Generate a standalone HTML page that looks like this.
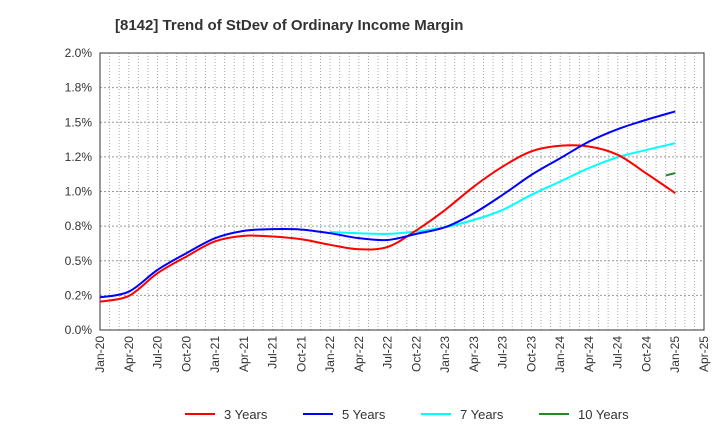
<!DOCTYPE html>
<html><head><meta charset="utf-8"><style>
body{margin:0;background:#fff;font-family:"Liberation Sans",Arial,sans-serif}
svg text{font-family:"Liberation Sans",Arial,sans-serif}
</style></head><body>
<svg id="c" width="720" height="440" xmlns="http://www.w3.org/2000/svg">
<text x="115" y="30" font-size="15" font-weight="bold" fill="#333">[8142]  Trend of StDev of Ordinary Income Margin</text>
<g id="grid"></g><g id="axes"></g><g id="series"></g><g id="legend"></g>
</svg>
<script>
const xLabels=["Jan-20","Apr-20","Jul-20","Oct-20","Jan-21","Apr-21","Jul-21","Oct-21","Jan-22","Apr-22","Jul-22","Oct-22","Jan-23","Apr-23","Jul-23","Oct-23","Jan-24","Apr-24","Jul-24","Oct-24","Jan-25","Apr-25"];
const yTicks=[0,0.25,0.5,0.75,1.0,1.25,1.5,1.75,2.0];
const yTickLabels=["0.0%","0.2%","0.5%","0.8%","1.0%","1.2%","1.5%","1.8%","2.0%"];
// values by quarter index (0 = Jan-20)
const s3y=[0.205,0.246,0.41,0.53,0.64,0.68,0.675,0.655,0.615,0.583,0.60,0.72,0.867,1.036,1.18,1.29,1.33,1.325,1.265,1.13,0.988];
const s5y=[0.236,0.277,0.434,0.554,0.663,0.716,0.728,0.725,0.699,0.663,0.65,0.694,0.742,0.843,0.976,1.12,1.24,1.36,1.45,1.518,1.578];
const s7yStart=8;
const s7y=[0.708,0.699,0.694,0.711,0.742,0.795,0.867,0.976,1.072,1.169,1.248,1.30,1.349];
const s10yStart=19.67;
const s10y=[1.116,1.133];
const X0=100,X1=704,Y0=330,Y1=53,NQ=21;
const sx=q=>X0+q*(X1-X0)/NQ;
const sy=v=>Y0-v/2*(Y0-Y1);
const NS="http://www.w3.org/2000/svg";
function mk(t,a,p){const e=document.createElementNS(NS,t);for(const k in a)e.setAttribute(k,a[k]);p.appendChild(e);return e;}
const grid=document.getElementById('grid'),axes=document.getElementById('axes'),ser=document.getElementById('series'),leg=document.getElementById('legend');
for(let m=1;m<NQ*3;m++){const x=X0+m*(X1-X0)/(NQ*3);
const l=mk('line',{x1:x,x2:x,y1:Y1,y2:Y0,stroke:'#aaa','stroke-width':1,'stroke-dasharray':'1,2'},grid);

}
yTicks.forEach((v,i)=>{const y=sy(v);
if(i>0&&i<yTicks.length-1){const l=mk('line',{x1:X0,x2:X1,y1:y,y2:y,stroke:'#999','stroke-width':1,'stroke-dasharray':'2,2'},grid);

}
const t=mk('text',{x:92,y:y+4,'text-anchor':'end','font-size':12,fill:'#333'},axes);t.textContent=yTickLabels[i];

});
const fr=mk('rect',{x:X0,y:Y1,width:X1-X0,height:Y0-Y1,fill:'none',stroke:'#333','stroke-width':1},axes);


xLabels.forEach((s,i)=>{const x=sx(i);
const t=mk('text',{x:0,y:0,'text-anchor':'end','font-size':12,fill:'#333',transform:`translate(${x+4},${Y0+6}) rotate(-90)`},axes);t.textContent=s;

});
function path(vals,start,step){const p=vals.map((v,i)=>[sx(start+i*step),sy(v)]);
let d=`M${p[0][0]},${p[0][1]}`;
for(let i=0;i<p.length-1;i++){const a=p[i-1]||p[i],b=p[i],c=p[i+1],e=p[i+2]||c;
d+=` C${b[0]+(c[0]-a[0])/6},${b[1]+(c[1]-a[1])/6} ${c[0]-(e[0]-b[0])/6},${c[1]-(e[1]-b[1])/6} ${c[0]},${c[1]}`;}
return d;}
const defs=[[s3y,0,1,'#ff0000','series-3-years'],[s5y,0,1,'#0000ff','series-5-years'],[s7y,s7yStart,1,'#00ffff','series-7-years'],[s10y,s10yStart,1/3,'#228b22','series-10-years']];
[defs[2],defs[0],defs[1],defs[3]].forEach(d=>{const e=mk('path',{d:path(d[0],d[1],d[2]),fill:'none',stroke:d[3],'stroke-width':2},ser);

});
const names=["3 Years","5 Years","7 Years","10 Years"];
names.forEach((n,i)=>{const x=185+i*118;
const g=mk('g',{},leg);


mk('line',{x1:x,x2:x+30,y1:414,y2:414,stroke:defs[i][3],'stroke-width':2},g);
const t=mk('text',{x:x+39,y:419,'font-size':13,fill:'#333'},g);t.textContent=n;});
</script>
</body></html>
